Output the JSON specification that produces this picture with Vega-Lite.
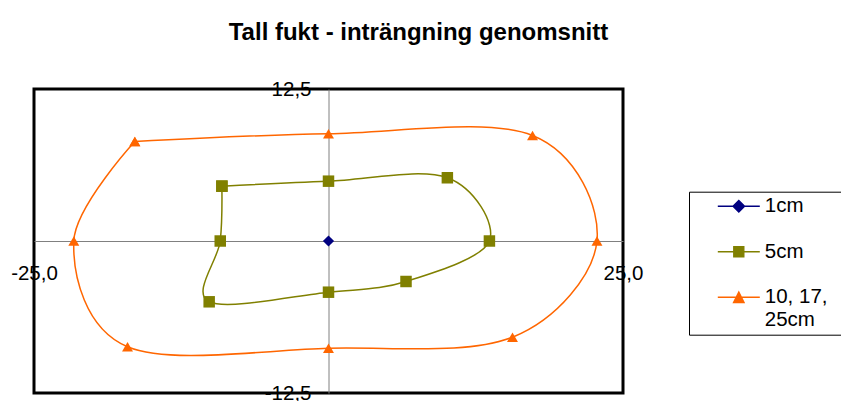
{
  "$schema": "https://vega.github.io/schema/vega-lite/v6.json",
  "width": 589,
  "height": 304,
  "autosize": {"type": "none"},
  "padding": {"left": 34, "top": 89, "right": 218, "bottom": 8},
  "background": "white",
  "title": {
    "text": "Tall fukt - inträngning genomsnitt",
    "font": "Liberation Sans",
    "fontSize": 24,
    "fontWeight": "bold",
    "color": "black",
    "anchor": "middle",
    "frame": "group",
    "dx": 90,
    "offset": 15,
    "baseline": "alphabetic"
  },
  "config": {
    "view": {"stroke": "black", "strokeWidth": 3}
  },
  "data": {
    "values": [
      {"series": "1cm", "i": 0, "x": 0, "y": 0},
      {"series": "5cm", "i": 0, "x": -9.05, "y": 4.51},
      {"series": "5cm", "i": 1, "x": 0, "y": 4.92},
      {"series": "5cm", "i": 2, "x": 10.09, "y": 5.2},
      {"series": "5cm", "i": 3, "x": 13.66, "y": 0},
      {"series": "5cm", "i": 4, "x": 6.58, "y": -3.33},
      {"series": "5cm", "i": 5, "x": 0, "y": -4.21},
      {"series": "5cm", "i": 6, "x": -10.13, "y": -5.0},
      {"series": "5cm", "i": 7, "x": -9.19, "y": 0},
      {"series": "5cm", "i": 8, "x": -9.05, "y": 4.51},
      {"series": "10, 17, 25cm", "i": 0, "x": -16.44, "y": 8.18},
      {"series": "10, 17, 25cm", "i": 1, "x": 0, "y": 8.82},
      {"series": "10, 17, 25cm", "i": 2, "x": 17.32, "y": 8.68},
      {"series": "10, 17, 25cm", "i": 3, "x": 22.79, "y": 0},
      {"series": "10, 17, 25cm", "i": 4, "x": 15.62, "y": -7.91},
      {"series": "10, 17, 25cm", "i": 5, "x": 0, "y": -8.82},
      {"series": "10, 17, 25cm", "i": 6, "x": -17.06, "y": -8.7},
      {"series": "10, 17, 25cm", "i": 7, "x": -21.62, "y": 0},
      {"series": "10, 17, 25cm", "i": 8, "x": -16.44, "y": 8.18}
    ]
  },
  "encoding": {
    "x": {
      "field": "x",
      "type": "quantitative",
      "scale": {"domain": [-25, 25], "nice": false, "zero": false},
      "axis": {
        "values": [-25, 25],
        "format": ".1f",
        "labelExpr": "replace(replace(datum.label, '.', ','), '\u2212', '-')",
        "offset": -152,
        "ticks": false,
        "tickSize": 0,
        "grid": false,
        "title": null,
        "domainColor": "#808080",
        "domainWidth": 1,
        "labelPadding": 22.5,
        "labelFont": "Liberation Sans",
        "labelFontSize": 20.5,
        "labelColor": "black",
        "labelFlush": false,
        "labelOverlap": false,
        "labelBound": false
      }
    },
    "y": {
      "field": "y",
      "type": "quantitative",
      "scale": {"domain": [-12.5, 12.5], "nice": false, "zero": false},
      "axis": {
        "values": [-12.5, 12.5],
        "format": ".1f",
        "labelExpr": "replace(replace(datum.label, '.', ','), '\u2212', '-')",
        "offset": -294.5,
        "ticks": false,
        "tickSize": 0,
        "grid": false,
        "title": null,
        "domainColor": "#808080",
        "domainWidth": 1,
        "labelPadding": 17.5,
        "labelFont": "Liberation Sans",
        "labelFontSize": 20.5,
        "labelColor": "black",
        "labelFlush": false,
        "labelOverlap": false,
        "labelBound": false
      }
    },
    "color": {
      "field": "series",
      "type": "nominal",
      "scale": {"domain": ["1cm", "5cm", "10, 17, 25cm"], "range": ["#000080", "#808000", "#FF6600"]},
      "legend": {
        "orient": "none",
        "legendX": 655,
        "legendY": 102.7,
        "title": "\u00a0",
        "titleOrient": "right",
        "titleFontSize": 2,
        "titlePadding": 11.5,
        "padding": 3.6,
        "strokeColor": "#000000",
        "fillColor": "white",
        "symbolSize": 400,
        "symbolOffset": 35.2,
        "labelOffset": 15,
        "rowPadding": 23.5,
        "labelFont": "Liberation Sans",
        "labelFontSize": 20.5,
        "labelColor": "black",
        "labelLimit": 300,
        "labelExpr": "datum.label == '10, 17, 25cm' ? ['10, 17,', '25cm'] : datum.label",
        "encode": {
          "symbols": {
            "update": {
              "shape": {"signal": "datum.value == '1cm' ? 'M-2.1,0H2.1M0,-0.575L0.575,0L0,0.575L-0.575,0Z' : datum.value == '5cm' ? 'M-2.1,0H2.1M-0.5,-0.5H0.5V0.5H-0.5Z' : 'M-2.1,0H2.1M0,-0.515L0.525,0.515L-0.525,0.515Z'"},
              "fill": {"signal": "datum.value == '1cm' ? '#000080' : datum.value == '5cm' ? '#808000' : '#FF6600'"},
              "stroke": {"signal": "datum.value == '1cm' ? '#000080' : datum.value == '5cm' ? '#808000' : '#FF6600'"},
              "strokeWidth": {"value": 1.4},
              "opacity": {"value": 1},
              "fillOpacity": {"value": 1},
              "strokeOpacity": {"value": 1}
            }
          }
        }
      }
    }
  },
  "layer": [
    {
      "mark": {"type": "line", "interpolate": "cardinal", "strokeWidth": 1.5},
      "encoding": {
        "order": {"field": "i", "type": "quantitative"}
      }
    },
    {
      "mark": {"type": "point", "filled": true, "opacity": 1, "strokeWidth": 0},
      "encoding": {
        "shape": {
          "field": "series",
          "type": "nominal",
          "scale": {"range": ["triangle-up", "diamond", "square"]},
          "legend": null
        },
        "size": {
          "field": "series",
          "type": "nominal",
          "scale": {"range": [120, 132, 96]},
          "legend": null
        }
      }
    }
  ]
}
